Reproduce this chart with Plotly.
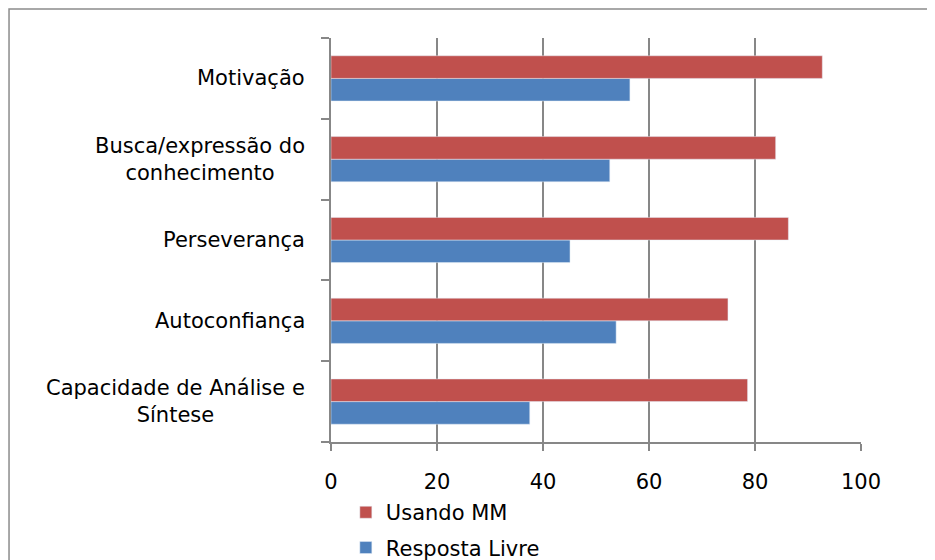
import plotly.graph_objects as go

categories = [
    "Capacidade de Análise e<br>Síntese",
    "Autoconfiança",
    "Perseverança",
    "Busca/expressão do<br>conhecimento",
    "Motivação",
]
usando_mm = [78.6, 74.9, 86.3, 83.9, 92.7]
resposta_livre = [37.5, 53.8, 45.1, 52.6, 56.4]
x_ticks = [0, 20, 40, 60, 80, 100]

RED = "#C0504D"
BLUE = "#4F81BD"
GRID = "#878787"
FONT = "DejaVu Sans"
FS = 21

fig = go.Figure()
fig.add_trace(go.Bar(y=categories, x=resposta_livre, orientation="h", name="Resposta Livre",
                     marker=dict(color=BLUE), legendgroup="b", legendrank=2))
fig.add_trace(go.Bar(y=categories, x=usando_mm, orientation="h", name="Usando MM",
                     marker=dict(color=RED), legendgroup="a", legendrank=1))

for c in categories:
    fig.add_annotation(text=c, xref="paper", x=-0.045, yref="y", y=c, xanchor="right",
                       align="center", showarrow=False,
                       font=dict(family=FONT, size=FS, color="#000000"))

fig.update_layout(
    width=927, height=552,
    margin=dict(l=323, r=74, t=30, b=118, autoexpand=False),
    paper_bgcolor="white", plot_bgcolor="white",
    barmode="group", bargap=0.44, bargroupgap=0,
    font=dict(family=FONT, size=FS, color="#000000"),
    showlegend=True,
    legend=dict(x=0.028, y=-0.124, xanchor="left", yanchor="top", traceorder="grouped",
                orientation="v", tracegroupgap=5, font=dict(family=FONT, size=FS),
                bgcolor="rgba(0,0,0,0)"),
    shapes=[dict(type="rect", xref="paper", yref="paper", x0=-0.6075, x1=1.2, y0=-0.4, y1=1.0718,
                 line=dict(color="#8c8c8c", width=1.5), fillcolor="rgba(0,0,0,0)", layer="above")],
)
fig.update_xaxes(range=[0, 100], tickvals=x_ticks, showgrid=True, gridcolor=GRID, gridwidth=1.5,
                 showline=True, linecolor=GRID, linewidth=1.5, ticks="outside", ticklen=7,
                 tickcolor=GRID, tickwidth=1.5, zeroline=False, ticklabelstandoff=13,
                 tickfont=dict(family=FONT, size=FS))
fig.update_yaxes(type="category", showticklabels=False, showline=True, linecolor=GRID, linewidth=1.5,
                 ticks="outside", ticklen=8, tickcolor=GRID, tickwidth=1.5, tickson="boundaries",
                 showgrid=False, zeroline=False, range=[-0.5, 4.5])

fig.write_html("out.html")
